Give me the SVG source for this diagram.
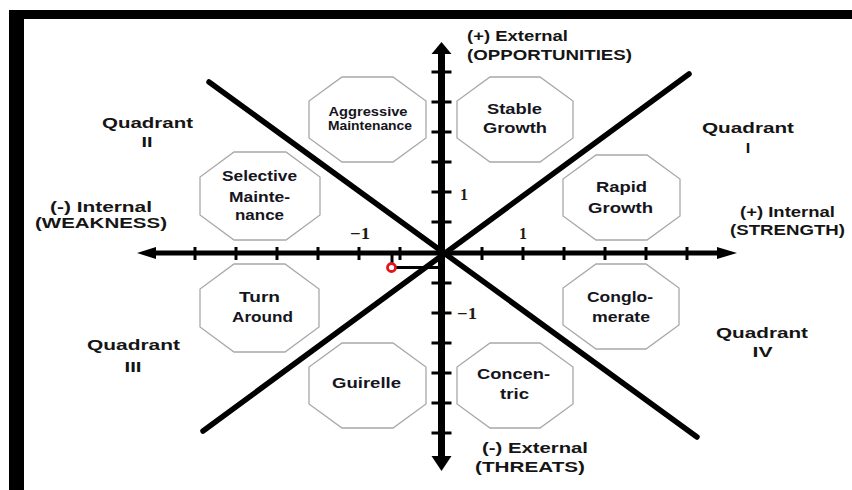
<svg xmlns="http://www.w3.org/2000/svg" width="852" height="490" viewBox="0 0 852 490">
<defs>
<style>
.frame{fill:#000}
.axis{stroke:#000;fill:none}
.tick{stroke:#000;stroke-width:3}
.diag{stroke:#000;stroke-width:5.5;stroke-linecap:round}
.oct{fill:#fff;stroke:#a8a8a8;stroke-width:1.3}
.lbl{font-family:"Liberation Sans",Arial,sans-serif;font-weight:bold;font-size:14.5px;fill:#151515}
.ot{font-family:"Liberation Sans",Arial,sans-serif;font-weight:bold;font-size:15.5px;fill:#151520;text-anchor:middle}
.os{font-family:"Liberation Sans",Arial,sans-serif;font-weight:bold;font-size:12px;fill:#151520;text-anchor:middle}
.num{font-family:"Liberation Serif","Times New Roman",serif;font-weight:bold;font-size:16px;fill:#221a10;text-anchor:middle}
.mid{text-anchor:middle}
</style>
</defs>
<rect width="852" height="490" fill="#fff"/>
<g id="frame">
<rect class="frame" x="9" y="10" width="843" height="9"/>
<rect class="frame" x="9" y="10" width="15" height="480"/>
</g>
<g id="connectors">
<line class="diag" x1="209" y1="82" x2="697" y2="437"/>
<line class="diag" x1="689" y1="74" x2="203" y2="431"/>
<line class="axis" x1="154" y1="253" x2="718" y2="253" stroke-width="5"/>
<polygon points="137,253 156,247 156,259" fill="#000"/>
<polygon points="737,253 717,247 717,259" fill="#000"/>
<line class="axis" x1="441.5" y1="52" x2="441.5" y2="457" stroke-width="7"/>
<polygon points="441.5,42 431.5,54 451.5,54" fill="#000"/>
<polygon points="441.5,471 431.5,456 451.5,456" fill="#000"/>
<g id="xticks">
<line class="tick" x1="195" y1="247" x2="195" y2="260"/>
<line class="tick" x1="236" y1="247" x2="236" y2="260"/>
<line class="tick" x1="277" y1="247" x2="277" y2="260"/>
<line class="tick" x1="318" y1="247" x2="318" y2="260"/>
<line class="tick" x1="359" y1="247" x2="359" y2="260"/>
<line class="tick" x1="400" y1="247" x2="400" y2="260"/>
<line class="tick" x1="482" y1="247" x2="482" y2="260"/>
<line class="tick" x1="523" y1="247" x2="523" y2="260"/>
<line class="tick" x1="564" y1="247" x2="564" y2="260"/>
<line class="tick" x1="605" y1="247" x2="605" y2="260"/>
<line class="tick" x1="646" y1="247" x2="646" y2="260"/>
<line class="tick" x1="687" y1="247" x2="687" y2="260"/>
</g>
<g id="yticks">
<line class="tick" x1="431.5" y1="72" x2="451.5" y2="72"/>
<line class="tick" x1="431.5" y1="102" x2="451.5" y2="102"/>
<line class="tick" x1="431.5" y1="132" x2="451.5" y2="132"/>
<line class="tick" x1="431.5" y1="162" x2="451.5" y2="162"/>
<line class="tick" x1="431.5" y1="192" x2="451.5" y2="192"/>
<line class="tick" x1="431.5" y1="222" x2="451.5" y2="222"/>
<line class="tick" x1="431.5" y1="283" x2="451.5" y2="283"/>
<line class="tick" x1="431.5" y1="313" x2="451.5" y2="313"/>
<line class="tick" x1="431.5" y1="343" x2="451.5" y2="343"/>
<line class="tick" x1="431.5" y1="373" x2="451.5" y2="373"/>
<line class="tick" x1="431.5" y1="403" x2="451.5" y2="403"/>
<line class="tick" x1="431.5" y1="433" x2="451.5" y2="433"/>
</g>
<g id="position">
<line x1="392" y1="253" x2="392" y2="264" stroke="#000" stroke-width="3"/>
<line x1="395" y1="267.5" x2="441" y2="267.5" stroke="#000" stroke-width="3"/>
<circle cx="391.5" cy="267.5" r="4" fill="#fff" stroke="#e3141c" stroke-width="2.8"/>
</g>
</g>
<g id="ticklabels">
<text class="num" x="360" y="239" textLength="20" lengthAdjust="spacingAndGlyphs">−1</text>
<text class="num" x="523" y="239">1</text>
<text class="num" x="464" y="200">1</text>
<text class="num" x="467" y="319" textLength="20" lengthAdjust="spacingAndGlyphs">−1</text>
</g>
<g id="aggressive-maintenance">
<polygon class="oct" points="342,77 393,77 426,101 426,138 393,162 342,162 309,138 309,101"/>
<text class="os" x="368" y="116" textLength="79" lengthAdjust="spacingAndGlyphs">Aggressive</text>
<text class="os" x="370" y="130" textLength="84" lengthAdjust="spacingAndGlyphs">Maintenance</text>
</g>
<g id="stable-growth">
<polygon class="oct" points="490,77 540,77 573,101 573,138 540,162 490,162 457,138 457,101"/>
<text class="ot" x="514.5" y="114" textLength="55" lengthAdjust="spacingAndGlyphs">Stable</text>
<text class="ot" x="515" y="133" textLength="64" lengthAdjust="spacingAndGlyphs">Growth</text>
</g>
<g id="selective-maintenance">
<polygon class="oct" points="234,152 286,152 320,177 320,215 286,240 234,240 200,215 200,177"/>
<text class="ot" x="259.5" y="181" textLength="75" lengthAdjust="spacingAndGlyphs">Selective</text>
<text class="ot" x="259.5" y="202" textLength="61" lengthAdjust="spacingAndGlyphs">Mainte-</text>
<text class="ot" x="259.5" y="220" textLength="49" lengthAdjust="spacingAndGlyphs">nance</text>
</g>
<g id="rapid-growth">
<polygon class="oct" points="596,155 647,155 680,179 680,216 647,240 596,240 563,216 563,179"/>
<text class="ot" x="621.5" y="192" textLength="51" lengthAdjust="spacingAndGlyphs">Rapid</text>
<text class="ot" x="620.5" y="212.5" textLength="65" lengthAdjust="spacingAndGlyphs">Growth</text>
</g>
<g id="turn-around">
<polygon class="oct" points="234,264 285,264 319,289 319,327 285,352 234,352 200,327 200,289"/>
<text class="ot" x="259.5" y="302" textLength="41" lengthAdjust="spacingAndGlyphs">Turn</text>
<text class="ot" x="262.5" y="322" textLength="61" lengthAdjust="spacingAndGlyphs">Around</text>
</g>
<g id="conglomerate">
<polygon class="oct" points="596,264 646,264 679,288 679,325 646,349 596,349 563,325 563,288"/>
<text class="ot" x="620" y="302" textLength="66" lengthAdjust="spacingAndGlyphs">Conglo-</text>
<text class="ot" x="621" y="322" textLength="58" lengthAdjust="spacingAndGlyphs">merate</text>
</g>
<g id="guirelle">
<polygon class="oct" points="342,343 393,343 426,367 426,404 393,428 342,428 309,404 309,367"/>
<text class="ot" x="366.5" y="388" textLength="69" lengthAdjust="spacingAndGlyphs">Guirelle</text>
</g>
<g id="concentric">
<polygon class="oct" points="490,343 540,343 573,367 573,404 540,428 490,428 457,404 457,367"/>
<text class="ot" x="513.5" y="379" textLength="73" lengthAdjust="spacingAndGlyphs">Concen-</text>
<text class="ot" x="514.5" y="399" textLength="29" lengthAdjust="spacingAndGlyphs">tric</text>
</g>
<g id="labels">
<text class="lbl" x="467" y="41" textLength="101" lengthAdjust="spacingAndGlyphs">(+) External</text>
<text class="lbl" x="467" y="60" textLength="165" lengthAdjust="spacingAndGlyphs">(OPPORTUNITIES)</text>
<text class="lbl mid" x="147.5" y="128" textLength="91" lengthAdjust="spacingAndGlyphs">Quadrant</text>
<text class="lbl mid" x="147" y="147" textLength="11" lengthAdjust="spacingAndGlyphs">II</text>
<text class="lbl mid" x="748" y="133" textLength="92" lengthAdjust="spacingAndGlyphs">Quadrant</text>
<text class="lbl mid" x="748" y="153" textLength="4.5" lengthAdjust="spacingAndGlyphs">I</text>
<text class="lbl mid" x="101" y="212" textLength="102" lengthAdjust="spacingAndGlyphs">(-) Internal</text>
<text class="lbl mid" x="101" y="228" textLength="132" lengthAdjust="spacingAndGlyphs">(WEAKNESS)</text>
<text class="lbl mid" x="787.5" y="217" textLength="95" lengthAdjust="spacingAndGlyphs">(+) Internal</text>
<text class="lbl mid" x="787.5" y="235" textLength="115" lengthAdjust="spacingAndGlyphs">(STRENGTH)</text>
<text class="lbl mid" x="133.5" y="350" textLength="93" lengthAdjust="spacingAndGlyphs">Quadrant</text>
<text class="lbl mid" x="133" y="372" textLength="17" lengthAdjust="spacingAndGlyphs">III</text>
<text class="lbl mid" x="762" y="338" textLength="92" lengthAdjust="spacingAndGlyphs">Quadrant</text>
<text class="lbl mid" x="762.5" y="357" textLength="20" lengthAdjust="spacingAndGlyphs">IV</text>
<text class="lbl mid" x="535" y="453" textLength="106" lengthAdjust="spacingAndGlyphs">(-) External</text>
<text class="lbl mid" x="530" y="472" textLength="110" lengthAdjust="spacingAndGlyphs">(THREATS)</text>
</g>
</svg>
